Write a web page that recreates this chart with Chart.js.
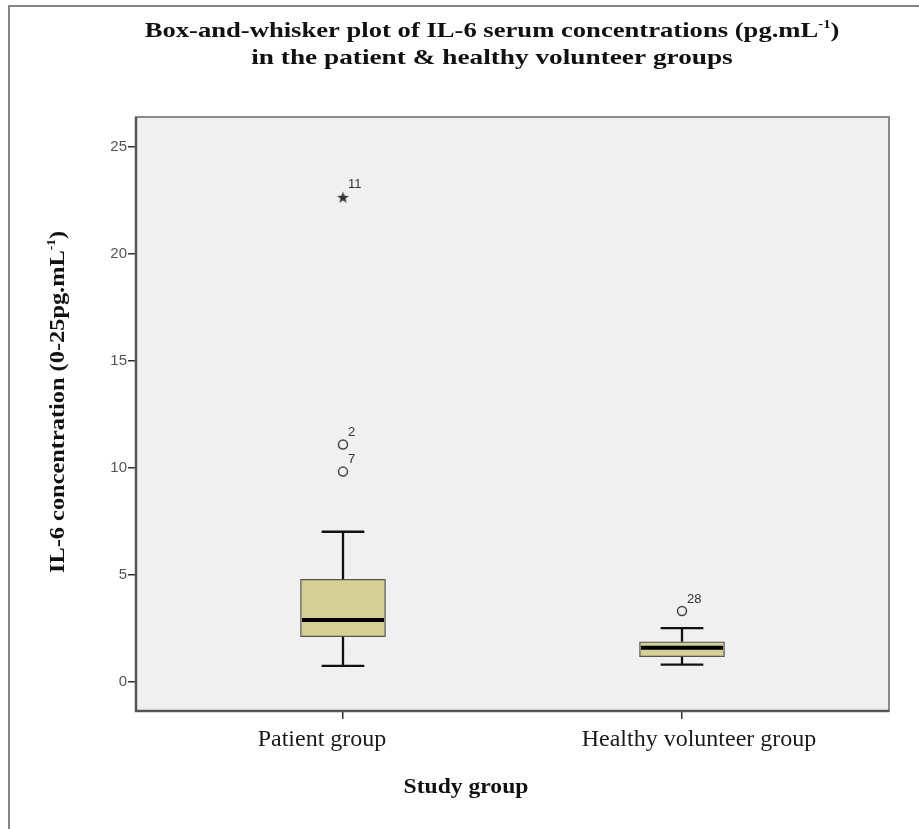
<!DOCTYPE html>
<html><head><meta charset="utf-8">
<script src="https://cdn.jsdelivr.net/npm/chart.js@4.4.1/dist/chart.umd.min.js"></script>
<style>html,body{margin:0;padding:0;background:#fff;}#wrap{width:919px;height:829px;position:relative;}</style>
</head><body><div id="wrap"><canvas id="c" width="919" height="829"></canvas></div>
<script>
// ---- data ----
const categories = ['Patient group', 'Healthy volunteer group'];
const whiskerLow  = [0.75, 0.81];
const q1          = [2.12, 1.18];
const median      = [2.90, 1.60];
const q3          = [4.80, 1.88];
const whiskerHigh = [7.02, 2.52];
const outlierGroup = [0, 0, 1];
const outlierValue = [11.10, 9.83, 3.32];
const outlierLabel = ['2', '7', '28'];
const extremeGroup = [0];
const extremeValue = [22.65];
const extremeLabel = ['11'];
const yTicks = [0, 5, 10, 15, 20, 25];
const titleLine1 = [{t: 'Box-and-whisker plot of IL-6 serum concentrations (pg.mL'}, {t: '-1', sup: true}, {t: ')'}];
const titleLine2 = [{t: 'in the patient & healthy volunteer groups'}];
const yTitle = [{t: 'IL-6 concentration (0-25pg.mL'}, {t: '-1', sup: true}, {t: ')'}];
const xTitle = [{t: 'Study group'}];

// ---- styles ----
const BOX_HALF = 0.125;   // half box width in category units
const CAP_HALF = 0.063;   // half whisker cap width
const X_LABEL_SHIFT = [-21, 17]; // category label offsets from their tick (px)
const SERIF = '"Liberation Serif", "Times New Roman", serif';
const SANS = '"Liberation Sans", Arial, sans-serif';

// star marker
const starImg = document.createElement('canvas');
starImg.width = 13; starImg.height = 13;
(function(){
  const g = starImg.getContext('2d');
  g.fillStyle = '#333';
  g.beginPath();
  for (let k = 0; k < 10; k++) {
    const r = k % 2 === 0 ? 6.2 : 2.6;
    const a = -Math.PI / 2 + k * Math.PI / 5;
    const px = 6.5 + r * Math.cos(a), py = 7 + r * Math.sin(a);
    if (k === 0) g.moveTo(px, py); else g.lineTo(px, py);
  }
  g.closePath(); g.fill();
})();

// ---- build datasets from the arrays ----
const boxData = categories.map((_, i) => ({x: i, y: [q1[i], q3[i]]}));
const whiskerData = [];
const medianData = [];
categories.forEach((_, i) => {
  whiskerData.push({x: i, y: q3[i]}, {x: i, y: whiskerHigh[i]}, {x: i, y: null});
  whiskerData.push({x: i - CAP_HALF, y: whiskerHigh[i]}, {x: i + CAP_HALF, y: whiskerHigh[i]}, {x: i, y: null});
  whiskerData.push({x: i, y: q1[i]}, {x: i, y: whiskerLow[i]}, {x: i, y: null});
  whiskerData.push({x: i - CAP_HALF, y: whiskerLow[i]}, {x: i + CAP_HALF, y: whiskerLow[i]}, {x: i, y: null});
  medianData.push({x: i - BOX_HALF + 0.004, y: median[i]}, {x: i + BOX_HALF - 0.004, y: median[i]}, {x: i, y: null});
});
const outlierData = outlierValue.map((v, j) => ({x: outlierGroup[j], y: v}));
const extremeData = extremeValue.map((v, j) => ({x: extremeGroup[j], y: v}));

// draw text with superscript parts, centred at cx, with horizontal stretch hs
function drawRich(ctx, parts, cx, y, size, bold, hs) {
  const f = (s) => (bold ? 'bold ' : '') + s + 'px ' + SERIF;
  let w = 0;
  parts.forEach(p => { ctx.font = f(p.sup ? size * 0.55 : size); w += ctx.measureText(p.t).width; });
  ctx.save();
  ctx.translate(cx, y);
  ctx.scale(hs, 1);
  let x = -w / 2;
  ctx.textAlign = 'left';
  ctx.textBaseline = 'alphabetic';
  parts.forEach(p => {
    ctx.font = f(p.sup ? size * 0.55 : size);
    ctx.fillText(p.t, x, p.sup ? -size * 0.42 : 0);
    x += ctx.measureText(p.t).width;
  });
  ctx.restore();
}

const decor = {
  id: 'decor',
  beforeDraw(chart) {
    const ctx = chart.ctx, a = chart.chartArea;
    ctx.save();
    ctx.fillStyle = '#fff';
    ctx.fillRect(0, 0, chart.width, chart.height);
    ctx.strokeStyle = '#858585';
    ctx.lineWidth = 2;
    ctx.beginPath();
    ctx.moveTo(9, 829); ctx.lineTo(9, 6); ctx.lineTo(919, 6);
    ctx.stroke();
    ctx.fillStyle = '#f0f0f0';
    ctx.fillRect(a.left, a.top, a.right - a.left, a.bottom - a.top);
    ctx.restore();
  },
  afterDraw(chart) {
    const ctx = chart.ctx, a = chart.chartArea;
    ctx.save();
    // plot frame
    ctx.strokeStyle = '#8a8a8a';
    ctx.lineWidth = 2;
    ctx.strokeRect(a.left, a.top, a.right - a.left, a.bottom - a.top);
    ctx.strokeStyle = '#555';
    ctx.lineWidth = 2.5;
    ctx.beginPath();
    ctx.moveTo(a.left, a.top); ctx.lineTo(a.left, a.bottom); ctx.lineTo(a.right, a.bottom);
    ctx.stroke();
    // point labels
    ctx.fillStyle = '#333';
    ctx.font = '13px ' + SANS;
    ctx.textAlign = 'left';
    ctx.textBaseline = 'middle';
    const mo = chart.getDatasetMeta(3), me = chart.getDatasetMeta(4);
    mo.data.forEach((pt, j) => ctx.fillText(outlierLabel[j], pt.x + 5, pt.y - 12));
    me.data.forEach((pt, j) => ctx.fillText(extremeLabel[j], pt.x + 5, pt.y - 13));
    // category labels under their ticks
    const xs = chart.scales.x;
    ctx.fillStyle = '#1a1a1a';
    ctx.font = '24px ' + SERIF;
    ctx.textAlign = 'center';
    ctx.textBaseline = 'alphabetic';
    categories.forEach((c, i) => ctx.fillText(c, xs.getPixelForValue(i) + X_LABEL_SHIFT[i], 746));
    // titles
    ctx.fillStyle = '#111';
    drawRich(ctx, titleLine1, 492, 37, 22, true, 1.21);
    drawRich(ctx, titleLine2, 492, 64, 22, true, 1.24);
    drawRich(ctx, xTitle, 466, 793, 20, true, 1.18);
    ctx.translate(64, 402);
    ctx.rotate(-Math.PI / 2);
    drawRich(ctx, yTitle, 0, 0, 21, true, 1.16);
    ctx.restore();
  }
};

new Chart(document.getElementById('c'), {
  type: 'bar',
  data: {
    datasets: [
      {type: 'bar', data: boxData, backgroundColor: '#d4d098', borderColor: '#555', borderWidth: 1.3,
       borderSkipped: false, barThickness: 85, order: 3},
      {type: 'line', data: whiskerData, borderColor: '#111', borderWidth: 2.3, pointRadius: 0, spanGaps: false,
       fill: false, order: 2},
      {type: 'line', data: medianData, borderColor: '#000', borderWidth: 4, pointRadius: 0, spanGaps: false,
       fill: false, order: 1, borderCapStyle: 'butt'},
      {type: 'scatter', data: outlierData, pointStyle: 'circle', pointRadius: 4.5, pointBorderWidth: 1.5,
       pointBorderColor: '#444', pointBackgroundColor: 'rgba(0,0,0,0)', order: 0},
      {type: 'scatter', data: extremeData, pointStyle: starImg, pointRadius: 6, order: 0}
    ]
  },
  options: {
    responsive: false,
    devicePixelRatio: 1,
    animation: false,
    events: [],
    layout: {padding: {top: 117, right: 30, bottom: 0, left: 0}},
    plugins: {legend: {display: false}, tooltip: {enabled: false}, title: {display: false}},
    scales: {
      x: {
        type: 'linear', min: -0.6106, max: 1.6106, offset: false,
        afterBuildTicks: s => { s.ticks = categories.map((_, i) => ({value: i})); },
        afterFit: s => { s.height = 118; },
        ticks: {display: false, callback: v => categories[v]},
        grid: {drawOnChartArea: false, drawTicks: true, tickLength: 8, color: '#333', lineWidth: 1.5, offset: false},
        border: {display: false}
      },
      y: {
        type: 'linear', min: -1.355, max: 26.40,
        afterBuildTicks: s => { s.ticks = yTicks.map(v => ({value: v})); },
        afterFit: s => { s.width = 136; },
        ticks: {font: {family: SANS, size: 15}, color: '#555', padding: 1},
        grid: {drawOnChartArea: false, drawTicks: true, tickLength: 8, color: '#333', lineWidth: 1.5, offset: false},
        border: {display: false}
      }
    }
  },
  plugins: [decor]
});
</script></body></html>
